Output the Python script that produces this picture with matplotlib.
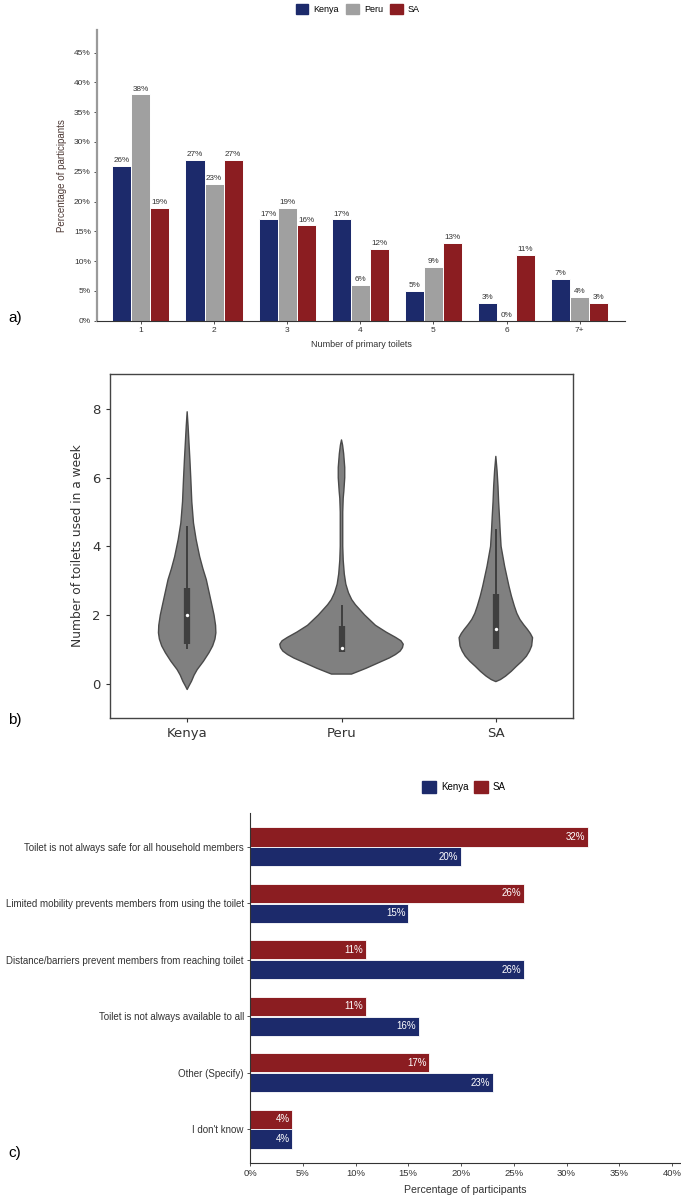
import numpy as np
import matplotlib.pyplot as plt
from matplotlib.patches import Patch

# ~~~ panel a: number of primary toilets ~~~
toilet_cats = ['1', '2', '3', '4', '5', '6', '7+']
kenya_a = [26, 27, 17, 17, 5, 3, 7]
peru_a = [38, 23, 19, 6, 9, 0, 4]
sa_a = [19, 27, 16, 12, 13, 11, 3]

# ~~~ panel b: violin outlines (value, half width) ~~~
violin_groups = ['Kenya', 'Peru', 'SA']
kenya_y = [-0.17, -0.08, 0.07, 0.25, 0.41, 0.65, 0.90, 1.10, 1.30, 1.48, 1.70, 2.0,
           2.25, 2.6, 3.03, 3.35, 3.70, 4.2, 4.68, 5.3, 5.93, 6.5, 7.0, 7.5, 7.92]
kenya_w = [0.0, 0.010, 0.028, 0.045, 0.065, 0.105, 0.141, 0.165, 0.180, 0.186, 0.184, 0.174,
           0.162, 0.145, 0.124, 0.102, 0.081, 0.058, 0.041, 0.030, 0.024, 0.018, 0.012, 0.006, 0.0]
peru_y = [0.28, 0.36, 0.45, 0.55, 0.65, 0.75, 0.85, 0.95, 1.05, 1.15, 1.25, 1.35, 1.5, 1.6,
          1.7, 1.85, 2.0, 2.15, 2.3, 2.45, 2.65, 2.9, 3.2, 3.6, 4.0, 5.0, 5.4, 5.6, 6.0, 6.3,
          6.7, 6.95, 7.1]
peru_w = [0.065, 0.11, 0.16, 0.21, 0.26, 0.31, 0.35, 0.38, 0.395, 0.40, 0.385, 0.35, 0.29,
          0.255, 0.22, 0.185, 0.15, 0.12, 0.09, 0.066, 0.045, 0.028, 0.018, 0.011, 0.008, 0.008,
          0.011, 0.015, 0.021, 0.021, 0.014, 0.007, 0.0]
sa_y = [0.06, 0.12, 0.22, 0.36, 0.51, 0.65, 0.80, 0.95, 1.10, 1.34, 1.46, 1.58, 1.72, 1.87,
        2.05, 2.26, 2.55, 2.84, 3.42, 4.0, 4.45, 4.9, 5.3, 5.75, 6.2, 6.62]
sa_w = [0.0, 0.030, 0.063, 0.100, 0.134, 0.168, 0.198, 0.218, 0.232, 0.238, 0.224, 0.205,
        0.180, 0.156, 0.136, 0.12, 0.101, 0.085, 0.057, 0.034, 0.028, 0.023, 0.018, 0.014,
        0.008, 0.0]
# box stats: q1, q3, whisker low, whisker high, median
box_q1 = [1.15, 0.93, 1.0]
box_q3 = [2.8, 1.67, 2.6]
whis_lo = [1.0, 0.93, 1.0]
whis_hi = [4.6, 2.3, 4.5]
medians = [2.0, 1.05, 1.58]

# ~~~ panel c: reasons ~~~
reasons = ['Toilet is not always safe for all household members',
           'Limited mobility prevents members from using the toilet',
           'Distance/barriers prevent members from reaching toilet',
           'Toilet is not always available to all',
           'Other (Specify)',
           "I don't know"]
kenya_c = [20, 15, 26, 16, 23, 4]
sa_c = [32, 26, 11, 11, 17, 4]

KENYA = '#1c2a6b'
PERU = '#a0a0a0'
SA = '#8b1d21'
TXT = '#333333'

plt.rcParams['font.family'] = ['Liberation Sans', 'DejaVu Sans']

fig = plt.figure(figsize=(6.81, 12), dpi=100)

# ---------------- a) ----------------
ax = fig.add_axes([97/681, 1-320.7/1200, 528/681, 290.7/1200])
x = np.arange(1, len(toilet_cats)+1)
w = 0.26
for off, vals, col in [(-w, kenya_a, KENYA), (0, peru_a, PERU), (w, sa_a, SA)]:
    ax.bar(x+off, vals, width=w, color=col, edgecolor='white', linewidth=0.7)
    for xi, v in zip(x+off, vals):
        ax.text(xi, v+0.3, '%d%%' % v, ha='center', va='bottom', fontsize=5.9, color=TXT)
ax.set_xlim(0.4, 7.62)
ax.set_ylim(0, 48.8)
ax.set_xticks(x)
ax.set_xticklabels(toilet_cats)
ax.set_yticks(np.arange(0, 50, 5))
ax.set_yticklabels(['%d%%' % v for v in range(0, 50, 5)])
ax.tick_params(labelsize=6, colors=TXT, length=2.5, width=0.6, pad=2)
ax.spines['top'].set_visible(False)
ax.spines['right'].set_visible(False)
ax.spines['left'].set_color('#9a9a9a')
ax.spines['left'].set_linewidth(1.6)
ax.spines['bottom'].set_color('#333333')
ax.spines['bottom'].set_linewidth(0.8)
ax.set_xlabel('Number of primary toilets', fontsize=6.5, color=TXT, labelpad=4)
ax.set_ylabel('Percentage of participants', fontsize=7, color='#4e3a36', labelpad=5)
fig.legend(handles=[Patch(color=KENYA, label='Kenya'), Patch(color=PERU, label='Peru'),
                    Patch(color=SA, label='SA')],
           loc='center', bbox_to_anchor=(358/681, 1-9/1200), ncol=3, frameon=False,
           fontsize=6.5, handlelength=1.35, handleheight=1.35, columnspacing=0.8,
           handletextpad=0.6)
fig.text(8/681, 1-318/1200, 'a)', fontsize=11, va='center', ha='left')

# ---------------- b) ----------------
axb = fig.add_axes([110/681, 1-718/1200, 463/681, 344/1200])
profiles = [(kenya_y, kenya_w), (peru_y, peru_w), (sa_y, sa_w)]
for i, (yy, ww) in enumerate(profiles):
    yy = np.array(yy)
    ww = np.array(ww)
    xs = np.concatenate([i - ww, (i + ww)[::-1]])
    ys = np.concatenate([yy, yy[::-1]])
    axb.fill(xs, ys, facecolor='#808080', edgecolor='#4a4a4a', linewidth=1.0, zorder=2,
             joinstyle='round')
    axb.plot([i, i], [whis_lo[i], whis_hi[i]], color='#3f3f3f', linewidth=1.4, zorder=3,
             solid_capstyle='butt')
    axb.plot([i, i], [box_q1[i], box_q3[i]], color='#3f3f3f', linewidth=4.5, zorder=3,
             solid_capstyle='butt')
    axb.scatter([i], [medians[i]], s=6, color='white', zorder=4, linewidths=0)
axb.set_xlim(-0.5, 2.5)
axb.set_ylim(-1.0, 9.02)
axb.set_xticks(range(3))
axb.set_xticklabels(violin_groups, family='DejaVu Sans')
axb.set_yticks([0, 2, 4, 6, 8])
axb.set_yticklabels(['0', '2', '4', '6', '8'], family='DejaVu Sans')
axb.tick_params(labelsize=9.5, colors=TXT, length=3, width=0.8)
for s in axb.spines.values():
    s.set_color('#444444')
    s.set_linewidth(1.0)
axb.set_ylabel('Number of toilets used in a week', fontsize=8.8, color=TXT,
               family='DejaVu Sans', labelpad=6)
fig.text(8/681, 1-720/1200, 'b)', fontsize=11, va='center', ha='left')

# ---------------- c) ----------------
axc = fig.add_axes([250/681, 1-1163/1200, 431/681, 350/1200])
yc = np.arange(1, len(reasons)+1)
h = 0.34
axc.barh(yc - 0.175, sa_c, height=h, color=SA, edgecolor='white', linewidth=0.6)
axc.barh(yc + 0.175, kenya_c, height=h, color=KENYA, edgecolor='white', linewidth=0.6)
for yi, v in zip(yc - 0.175, sa_c):
    axc.text(v - 0.25, yi, '%d%%' % v, ha='right', va='center', fontsize=7, color='white')
for yi, v in zip(yc + 0.175, kenya_c):
    axc.text(v - 0.25, yi, '%d%%' % v, ha='right', va='center', fontsize=7, color='white')
axc.set_ylim(6.6, 0.4)
axc.set_xlim(0, 40.85)
axc.set_yticks(yc)
axc.set_yticklabels(reasons)
axc.set_xticks(range(0, 45, 5))
axc.set_xticklabels(['%d%%' % v for v in range(0, 45, 5)])
axc.tick_params(labelsize=6.8, colors=TXT, length=2.5, width=0.6, pad=2)
axc.tick_params(axis='y', labelsize=7.05)
axc.spines['top'].set_visible(False)
axc.spines['right'].set_visible(False)
axc.spines['left'].set_color('#333333')
axc.spines['bottom'].set_color('#333333')
axc.spines['left'].set_linewidth(0.8)
axc.spines['bottom'].set_linewidth(0.8)
axc.set_xlabel('Percentage of participants', fontsize=7.6, color=TXT, labelpad=5)
fig.legend(handles=[Patch(color=KENYA, label='Kenya'), Patch(color=SA, label='SA')],
           loc='center', bbox_to_anchor=(464/681, 1-787/1200), ncol=2, frameon=False,
           fontsize=7, handlelength=1.4, handleheight=1.4, columnspacing=0.6,
           handletextpad=0.5)
fig.text(8/681, 1-1153/1200, 'c)', fontsize=11, va='center', ha='left')

fig.savefig('out.png', dpi=100)
